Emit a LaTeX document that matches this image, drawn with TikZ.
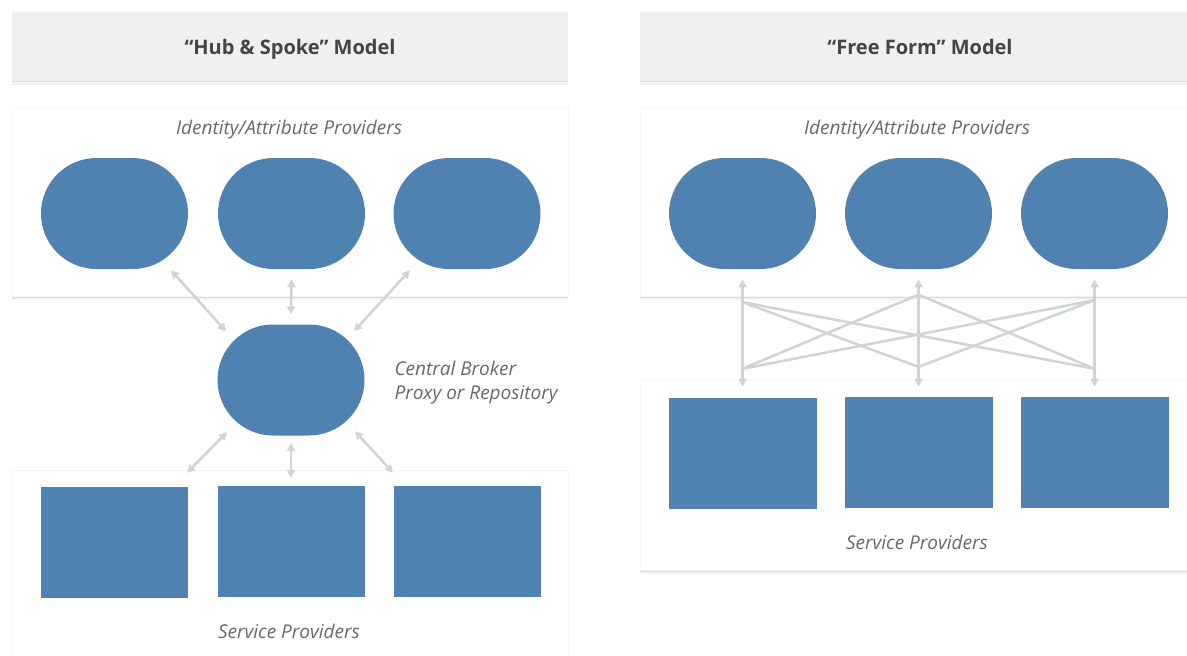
\documentclass[tikz,border=0pt]{standalone}
\usepackage{fontspec}
\setmainfont{Open Sans}
\usetikzlibrary{arrows.meta,calc,shapes.misc,shadows}
\definecolor{provblue}{RGB}{79,130,176}
\definecolor{headgray}{RGB}{240,240,240}
\definecolor{linkgray}{RGB}{206,213,212}
\definecolor{textdark}{RGB}{68,68,68}
\definecolor{textlight}{RGB}{105,105,105}

\begin{document}
\begin{tikzpicture}[x=1pt,y=-1pt,
  softshadow/.style={drop shadow={shadow xshift=0pt,shadow yshift=-1.5pt,opacity=.10,fill=black},
                     drop shadow={shadow xshift=0pt,shadow yshift=-4pt,opacity=.05,fill=black}},
  header/.style={fill=headgray,softshadow,minimum height=69pt,inner sep=0pt,
                 text height=20pt,text depth=4pt,
                 font=\fontsize{20}{24}\selectfont\bfseries,text=textdark},
  panel/.style={fill=white,draw=black!4,softshadow},
  idp/.style={rounded rectangle,fill=provblue,minimum width=147pt,minimum height=111pt,inner sep=0pt},
  sp/.style={rectangle,fill=provblue,minimum width=147pt,minimum height=111pt,inner sep=0pt},
  caption/.style={font=\fontsize{19}{24}\selectfont\itshape,text=textlight},
  link/.style={draw=linkgray,line width=2.5pt,{Triangle[length=8pt,width=8pt]}-{Triangle[length=8pt,width=8pt]}},
  mesh/.style={draw=linkgray,line width=2.5pt}]
\useasboundingbox (0,0) rectangle (1187,656);
\fill[white] (0,0) rectangle (1187,656);

\node[header,minimum width=556pt] (hubtitle) at (290,46) {“Hub \& Spoke” Model};
\node[header,minimum width=560pt] (freetitle) at (920,46) {“Free Form” Model};

\path[panel] (12,108) rectangle (568,296);
\path[panel] (12,470) rectangle (568,680);
\path[panel] (640,108) rectangle (1200,296);
\path[panel] (640,380) rectangle (1200,570);

\node[caption] (hubidp) at (289,130) {Identity/Attribute Providers};
\node[caption] (freeidp) at (917,130) {Identity/Attribute Providers};
\node[caption] (hubsp) at (289,631) {Service Providers};
\node[caption] (freesp) at (917,542) {Service Providers};

\node[idp] (ipA) at (114.5,213.5) {};
\node[idp] (ipB) at (291.5,213.5) {};
\node[idp] (ipC) at (467,213.5) {};
\node[idp] (broker) at (291,380) {};
\node[caption,align=left,anchor=west] (brokerlabel) at (391,383) {Central Broker\\Proxy or Repository};
\node[sp] (spA) at (114.5,542.5) {};
\node[sp] (spB) at (291,541.5) {};
\node[sp] (spC) at (467,541.5) {};

\draw[link] ($(ipA.south)+(56.5,1)$) -- ($(broker.north)+(-65,7)$);
\draw[link] ($(ipB.south)+(0,10)$) -- ($(broker.north)+(0,-10)$);
\draw[link] ($(ipC.south)+(-57,1)$) -- ($(broker.north)+(63,7)$);
\draw[link] ($(broker.south)+(-64,-3.5)$) -- ($(spA.north)+(72.5,-14)$);
\draw[link] ($(broker.south)+(0,7.5)$) -- ($(spB.north)+(0,-8)$);
\draw[link] ($(broker.south)+(64,-4.5)$) -- ($(spC.north)+(-74,-13)$);

\node[idp] (ipD) at (742.5,213.5) {};
\node[idp] (ipE) at (918.5,213.5) {};
\node[idp] (ipF) at (1094.5,213.5) {};
\node[sp,minimum width=148pt] (spD) at (742.5,453.5) {};
\node[sp,minimum width=148pt] (spE) at (918.5,452.5) {};
\node[sp,minimum width=148pt] (spF) at (1094.5,452.5) {};

\coordinate (jD1) at ($(ipD.south)+(0,33)$);
\coordinate (jE1) at ($(ipE.south)+(0,25.5)$);
\coordinate (jF1) at ($(ipF.south)+(0,31)$);
\coordinate (jD2) at ($(spD.north)+(0,-29)$);
\coordinate (jE2) at ($(spE.north)+(0,-30)$);
\coordinate (jF2) at ($(spF.north)+(0,-28)$);

\draw[link] ($(ipD.south)+(0,10)$) -- ($(spD.north)+(0,-11)$);
\draw[link] ($(ipE.south)+(0,10)$) -- ($(spE.north)+(0,-10)$);
\draw[link] ($(ipF.south)+(0,10)$) -- ($(spF.north)+(0,-10)$);
\draw[mesh] (jD1) -- (jE2);
\draw[mesh] (jD1) -- (jF2);
\draw[mesh] (jE1) -- (jD2);
\draw[mesh] (jE1) -- (jF2);
\draw[mesh] (jF1) -- (jD2);
\draw[mesh] (jF1) -- (jE2);
\end{tikzpicture}
\end{document}
